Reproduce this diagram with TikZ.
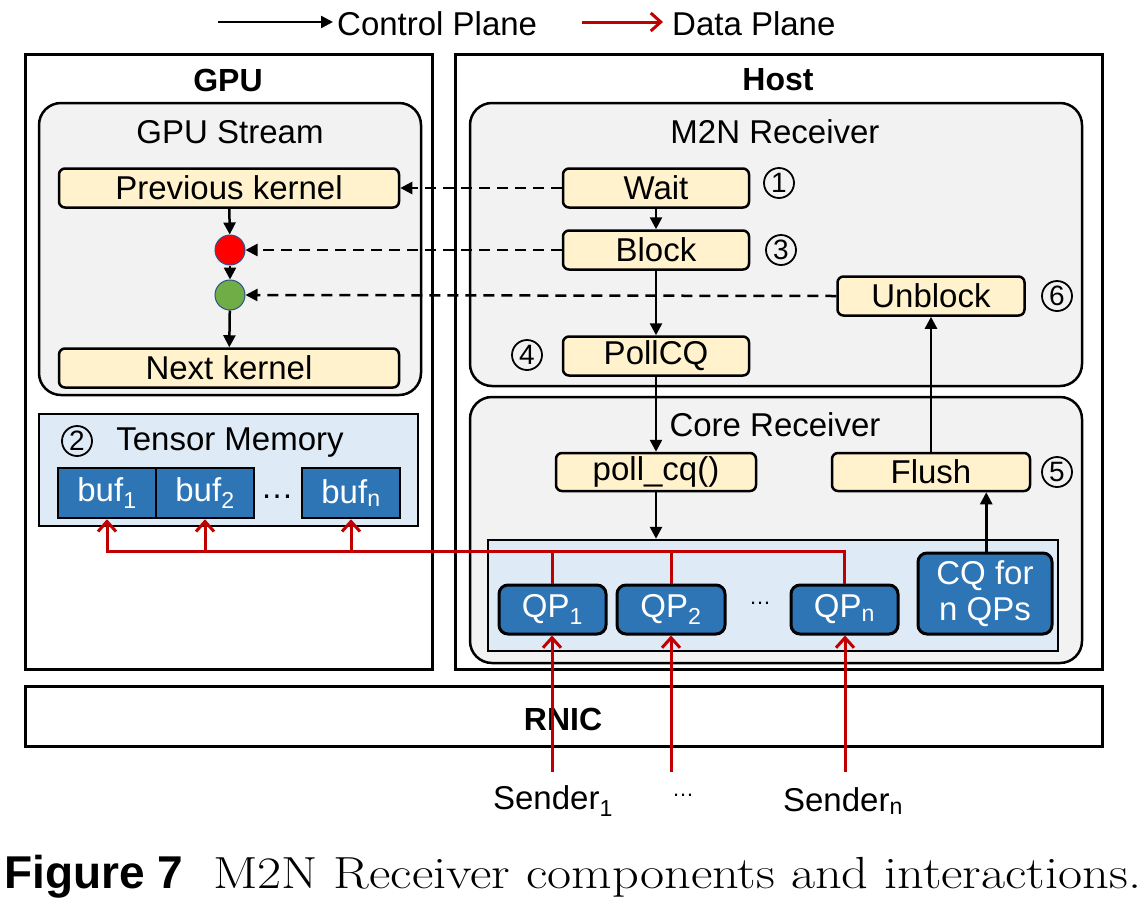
\documentclass[tikz,border=0pt]{standalone}
\usepackage{fontspec}
\usetikzlibrary{arrows.meta,shapes.geometric}
\newfontfamily\dfont{Liberation Sans}
\definecolor{grayfill}{HTML}{F2F2F2}
\definecolor{kfill}{HTML}{FFF2CC}
\definecolor{lblue}{HTML}{DEEBF7}
\definecolor{dblue}{HTML}{2E75B6}
\definecolor{dred}{HTML}{C00000}
\definecolor{cred}{HTML}{FF0000}
\definecolor{cgreen}{HTML}{70AD47}
\definecolor{cedge}{HTML}{2F528F}
\tikzset{
  txt/.style={font=\dfont\fontsize{33}{38}\selectfont, inner sep=0pt},
  ttl/.style={font=\dfont\bfseries\fontsize{32}{38}\selectfont, inner sep=0pt},
  outerbox/.style={draw, line width=3pt, inner sep=0pt},
  graybox/.style={draw, fill=grayfill, rounded corners=22pt, line width=2.5pt, inner sep=0pt},
  kbox/.style={draw, fill=kfill, rounded corners=6pt, line width=2.5pt, inner sep=0pt, font=\dfont\fontsize{33}{38}\selectfont, minimum height=39pt},
  memfill/.style={draw, fill=lblue, line width=2.5pt, inner sep=0pt},
  bufbox/.style={draw, fill=dblue, line width=2.5pt, inner sep=0pt, text=white, font=\dfont\fontsize{33}{38}\selectfont, minimum width=98pt, minimum height=50pt},
  qpbox/.style={draw, fill=dblue, line width=3pt, rounded corners=9pt, inner sep=0pt, text=white, font=\dfont\fontsize{33}{38}\selectfont, minimum height=49pt},
  numc/.style={draw, circle, line width=1.8pt, inner sep=0pt, minimum size=30pt, font=\dfont\fontsize{28}{32}\selectfont},
  dot/.style={ellipse, draw=cedge, line width=1pt, minimum width=30pt, minimum height=30pt, inner sep=0pt},
  ctrl/.style={line width=2.5pt, -{Triangle[length=12pt,width=12pt]}},
  ctrldash/.style={ctrl, dash pattern=on 11pt off 7pt},
  data/.style={draw=dred, line width=3pt},
  dataarrow/.style={data, -{Straight Barb[length=10pt,width=18pt,line width=3pt]}},
}
\begin{document}
\begin{tikzpicture}[x=1pt,y=-1pt]
\useasboundingbox (0,0) rectangle (1146,906);

% legend
\coordinate (lc1) at (218,22);
\coordinate (lc2) at (333,22);
\draw[ctrl] (lc1) -- (lc2);
\node[txt, anchor=west] (lctrl) at (337,24) {Control Plane};
\coordinate (ld1) at (582,22);
\coordinate (ld2) at (663,22);
\draw[dataarrow] (ld1) -- (ld2);
\node[txt, anchor=west] (ldata) at (672,24) {Data Plane};

% outer boxes
\node[outerbox, minimum width=407pt, minimum height=615pt] (gpu) at (228.5,361.5) {};
\node[outerbox, minimum width=647pt, minimum height=615pt] (host) at (778.5,361.5) {};
\node[ttl] (gputitle) at (228,80) {GPU};
\node[ttl] (hosttitle) at (778,80) {Host};

% GPU stream
\node[graybox, minimum width=382pt, minimum height=292pt] (stream) at (230,249) {};
\node[txt] (streamt) at (230,132) {GPU Stream};
\node[kbox, minimum width=340pt] (prev) at (229,188) {Previous kernel};
\node[dot, fill=cred] (rdot) at (230,250) {};
\node[dot, fill=cgreen] (gdot) at (230,295) {};
\node[kbox, minimum width=340pt] (next) at (229,368) {Next kernel};
\draw[ctrl] (prev) -- (rdot);
\draw[ctrl] (rdot) -- (gdot);
\draw[ctrl] (gdot) -- (next);

% tensor memory
\node[memfill, minimum width=379pt, minimum height=112pt] (mem) at (228.5,470) {};
\node[numc] (n2) at (77,441) {2};
\node[txt] (memt) at (230,443) {Tensor Memory};
\node[bufbox] (buf1) at (107,493) {buf\textsubscript{1}};
\node[bufbox] (buf2) at (205,493) {buf\textsubscript{2}};
\node[txt] (bdots) at (277,497) {\dots};
\node[bufbox] (bufn) at (351,493) {buf\textsubscript{n}};

% host
\node[graybox, minimum width=612pt, minimum height=283pt] (m2n) at (776,244.5) {};
\node[txt] (m2nt) at (775,132) {M2N Receiver};
\node[graybox, minimum width=612pt, minimum height=266pt] (core) at (776,530) {};
\node[txt] (coret) at (775,425) {Core Receiver};
\node[memfill, minimum width=570pt, minimum height=111pt] (qpc) at (773,595.5) {};

\node[kbox, minimum width=186pt] (wait) at (656,188) {Wait};
\node[kbox, minimum width=186pt] (block) at (656,250) {Block};
\node[kbox, minimum width=187pt] (unblock) at (931,296) {Unblock};
\node[kbox, minimum width=186pt] (pollcq) at (656,356) {PollCQ};
\node[kbox, minimum width=200pt, minimum height=38pt] (pollf) at (656,472) {poll\_cq()};
\node[kbox, minimum width=198pt, minimum height=38pt] (flush) at (931,472) {Flush};
\node[numc] (n1) at (779,183) {1};
\node[numc] (n3) at (781,250) {3};
\node[numc] (n6) at (1057,296) {6};
\node[numc] (n4) at (527,355) {4};
\node[numc] (n5) at (1057,472) {5};

\node[qpbox, minimum width=107pt] (qp1) at (552.5,609.5) {QP\textsubscript{1}};
\node[qpbox, minimum width=108pt] (qp2) at (671,609.5) {QP\textsubscript{2}};
\node[txt, font=\dfont\fontsize{22}{26}\selectfont] (qdots) at (760,603) {\dots};
\node[qpbox, minimum width=107pt] (qpn) at (844.5,609.5) {QP\textsubscript{n}};
\node[qpbox, minimum width=134pt, minimum height=81pt, align=center, font=\dfont\fontsize{33}{36}\selectfont] (cq) at (985,593.5) {CQ for\\n QPs};

% control arrows host
\draw[ctrldash] (wait.west) -- (prev.east);
\draw[ctrldash] (block.west) -- (rdot.east);
\draw[ctrldash] (unblock.west) -- (gdot.east);
\draw[ctrl] (wait) -- (block);
\draw[ctrl] (block) -- (pollcq);
\draw[ctrl] (pollcq) -- (pollf);
\draw[ctrl] (pollf) -- (qpc.north -| pollf.south);
\draw[ctrl] (cq.north -| flush.south east) ++(-45,0) coordinate (cqtop) -- (cqtop |- flush.south);
\draw[ctrl] (flush) -- (unblock);

% RNIC
\node[outerbox, minimum width=1077pt, minimum height=60pt] (rnic) at (563.5,716) {};
\node[ttl] (rnict) at (563,719) {RNIC};

% senders
\node[txt] (s1) at (553,801) {Sender\textsubscript{1}};
\node[txt, font=\dfont\fontsize{22}{26}\selectfont] (sdots) at (683,795) {\dots};
\node[txt] (sn) at (843,801) {Sender\textsubscript{n}};
\coordinate (s1top) at (552,772);
\coordinate (s2top) at (671,772);
\coordinate (sntop) at (845,772);

% data plane
\coordinate (bus) at (0,551);
\draw[dataarrow] (qpn.north) -- (qpn.north |- bus) -- (buf1.south |- bus) -- (buf1.south);
\draw[dataarrow] (buf2.south |- bus) -- (buf2.south);
\draw[dataarrow] (bufn.south |- bus) -- (bufn.south);
\draw[data] (qp1.north) -- (qp1.north |- bus);
\draw[data] (qp2.north) -- (qp2.north |- bus);
\draw[dataarrow] (s1top) -- (s1top |- qp1.south);
\draw[dataarrow] (s2top) -- (s2top |- qp2.south);
\draw[dataarrow] (sntop) -- (sntop |- qpn.south);

% caption
\node[anchor=west, inner sep=0pt, font=\dfont\bfseries\fontsize{46}{52}\selectfont] (figlabel) at (4,877) {Figure 7};
\node[anchor=west, inner sep=0pt, font=\rmfamily\fontsize{45}{50}\selectfont] (caption) at (213,877) {\scalebox{1.165}[1]{M2N Receiver components and interactions.}};
\end{tikzpicture}
\end{document}
